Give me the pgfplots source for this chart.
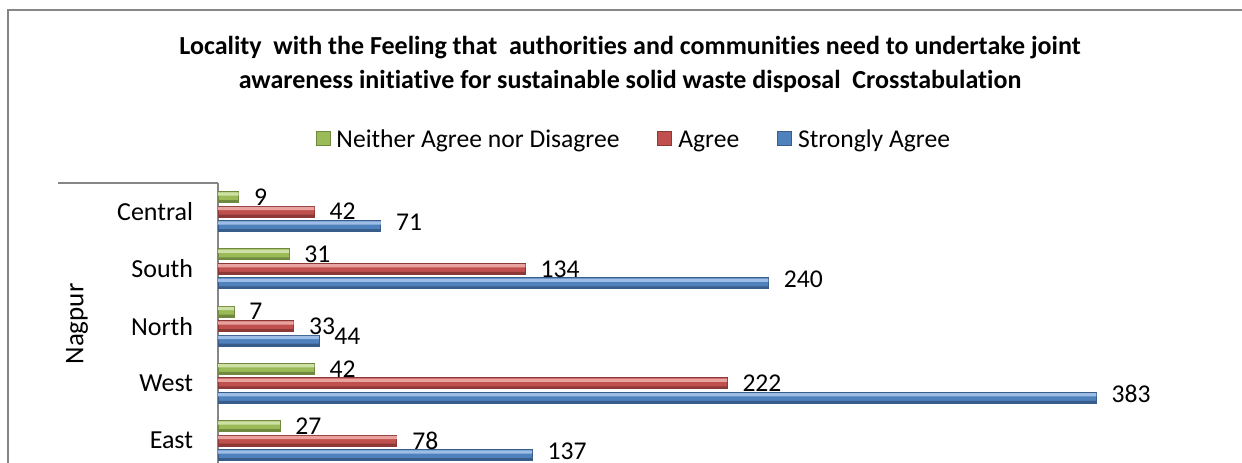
\documentclass[border=0pt]{standalone}
\usepackage{fontspec}
\setmainfont{Carlito}[Ligatures=NoCommon]
\usepackage{pgfplots}
\pgfplotsset{compat=1.18}

\definecolor{greenM}{HTML}{9BBB59}
\definecolor{greenL}{HTML}{CFE0A6}
\definecolor{greenD}{HTML}{71893F}
\definecolor{redM}{HTML}{C0504D}
\definecolor{redL}{HTML}{E8A3A1}
\definecolor{redD}{HTML}{8C3836}
\definecolor{blueM}{HTML}{4F81BD}
\definecolor{blueL}{HTML}{9EBDE6}
\definecolor{blueD}{HTML}{385D8A}
\definecolor{framegray}{HTML}{868686}

\begin{document}
\begin{tikzpicture}[x=0.5pt,y=0.5pt]
\useasboundingbox (0,0) rectangle (1242,462);
\clip (0,0) rectangle (1242,462);

% outer chart frame (cut off right and bottom)
\draw[framegray, line width=0.75pt] (8,-20) -- (8,452) -- (1260,452);

% title
\node[font=\bfseries\fontsize{13}{17}\selectfont, align=center] at (630,398)
  {Locality\ \ with the Feeling that\ \ authorities and communities need to undertake joint\\
   awareness initiative for sustainable solid waste disposal\ \ Crosstabulation};

\coordinate (axpos) at (218,279);

\begin{axis}[
  at={(axpos)}, anchor=north west,
  width=516pt, height=143.125pt, scale only axis,
  xmin=0, xmax=450, ymin=-0.5, ymax=4.5,
  xbar, bar width=5.5pt,
  axis x line=none, axis y line*=left,
  y axis line style={framegray, line width=0.6pt},
  ytick={0,1,2,3,4},
  yticklabels={East,West,North,South,Central},
  ytick style={draw=none},
  yticklabel style={font=\fontsize{13}{15}\selectfont, inner sep=0pt, xshift=-8pt},
  /pgf/number format/assume math mode=true,
  every node near coord/.append style={font=\fontsize{12.8}{15}\selectfont, black,
    anchor=west, inner sep=0pt, xshift=7.5pt},
  legend columns=3, reverse legend,
  legend image code/.code={\draw[#1,/tikz/.cd] (0pt,-1.5pt) rectangle (7pt,5.5pt);},
  legend style={draw=none, fill=none, at={(rel axis cs:0.402,1.145)}, anchor=center,
    font=\fontsize{12.8}{15}\selectfont, inner sep=0pt,
    nodes={inner sep=0pt, text height=0.7em, text depth=0.22em},
    /tikz/every odd column/.append style={column sep=3pt},
    /tikz/every even column/.append style={column sep=19pt}},
]
% main bars
\addplot[draw=blueD, fill=blueM, bar shift=-7.25pt, nodes near coords,
  every node near coord/.append style={yshift=2pt}]
  coordinates {(137,0) (383,1) (44,2) (240,3) (71,4)};
\addplot[draw=redD, fill=redM, bar shift=0pt, nodes near coords]
  coordinates {(78,0) (222,1) (33,2) (134,3) (42,4)};
\addplot[draw=greenD, fill=greenM, bar shift=7.25pt, nodes near coords]
  coordinates {(27,0) (42,1) (7,2) (31,3) (9,4)};
\legend{Strongly Agree, Agree, Neither Agree nor Disagree}
% bevel highlights on the upper face of each bar
\addplot[forget plot, draw=none, fill=blueL, bar width=1.6pt, bar shift=-5.7pt]
  coordinates {(137,0) (383,1) (44,2) (240,3) (71,4)};
\addplot[forget plot, draw=none, fill=redL, bar width=1.6pt, bar shift=1.55pt]
  coordinates {(78,0) (222,1) (33,2) (134,3) (42,4)};
\addplot[forget plot, draw=none, fill=greenL, bar width=1.6pt, bar shift=8.8pt]
  coordinates {(27,0) (42,1) (7,2) (31,3) (9,4)};
% darker lower edge
\addplot[forget plot, draw=none, fill=blueD, bar width=1.2pt, bar shift=-9.4pt]
  coordinates {(137,0) (383,1) (44,2) (240,3) (71,4)};
\addplot[forget plot, draw=none, fill=redD, bar width=1.2pt, bar shift=-2.15pt]
  coordinates {(78,0) (222,1) (33,2) (134,3) (42,4)};
\addplot[forget plot, draw=none, fill=greenD, bar width=1.2pt, bar shift=5.1pt]
  coordinates {(27,0) (42,1) (7,2) (31,3) (9,4)};
\end{axis}

% multi-level category axis
\draw[framegray, line width=0.6pt] (58,279) -- (218,279);
\node[rotate=90, font=\fontsize{13.5}{15}\selectfont] at (77,138) {Nagpur};
\end{tikzpicture}
\end{document}
